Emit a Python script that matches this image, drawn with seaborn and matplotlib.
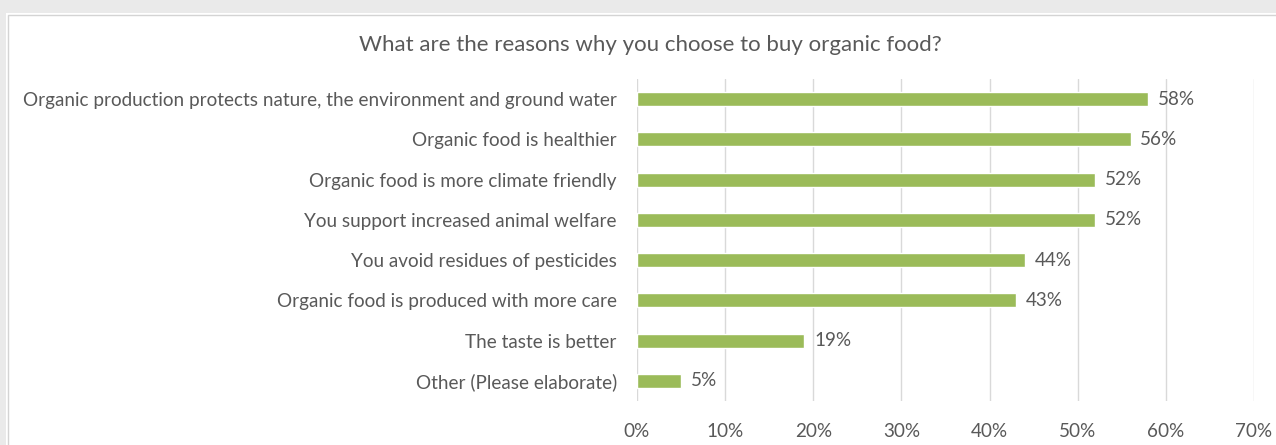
import matplotlib
matplotlib.use("Agg")
import matplotlib.pyplot as plt
import seaborn as sns
import pandas as pd
from matplotlib.patches import Rectangle
from matplotlib.ticker import FuncFormatter, MultipleLocator

title = "What are the reasons why you choose to buy organic food?"
reasons = [
    "Organic production protects nature, the environment and ground water",
    "Organic food is healthier",
    "Organic food is more climate friendly",
    "You support increased animal welfare",
    "You avoid residues of pesticides",
    "Organic food is produced with more care",
    "The taste is better",
    "Other (Please elaborate)",
]
shares = [58, 56, 52, 52, 44, 43, 19, 5]

df = pd.DataFrame({"reason": reasons, "share": [s / 100 for s in shares]})

sns.set_theme(style="white")
plt.rcParams["font.family"] = ["Lato", "DejaVu Sans"]

TEXT = "#595959"
BAR = "#9BBB59"
GRID = "#D9D9D9"
LABEL_SIZE = 13.6

fig = plt.figure(figsize=(12.76, 4.45), dpi=100, facecolor="#EAEAEA")
# white chart panel with a thin grey border
fig.patches.append(Rectangle((6 / 1276, -0.1), 1.2, 1 - 13 / 445 + 0.1,
                             transform=fig.transFigure, facecolor="white",
                             edgecolor="none", zorder=-10))
fig.patches.append(Rectangle((8 / 1276, -0.1), 1.2, 1 - 15 / 445 + 0.1,
                             transform=fig.transFigure, facecolor="white",
                             edgecolor="#D4D4D4", linewidth=1.0, zorder=-9))

ax = fig.add_axes([637 / 1276, 1 - 401 / 445, (1254 - 637) / 1276, (401 - 79) / 445])
ax.set_facecolor("none")

sns.barplot(data=df, y="reason", x="share", orient="h", color=BAR,
            width=0.35, saturation=1, ax=ax, zorder=3)

ax.set_xlim(0, 0.7)
ax.xaxis.set_major_locator(MultipleLocator(0.1))
ax.xaxis.set_major_formatter(FuncFormatter(lambda v, _: f"{v * 100:.0f}%"))
ax.grid(axis="x", color=GRID, linewidth=1.0, zorder=0)
ax.grid(axis="y", visible=False)
ax.set_axisbelow(True)
for s in ax.spines.values():
    s.set_visible(False)
ax.set_xlabel("")
ax.set_ylabel("")
ax.tick_params(axis="both", length=0, colors=TEXT, labelsize=LABEL_SIZE)
ax.tick_params(axis="x", pad=16)
ax.tick_params(axis="y", pad=14.5)

for patch, s in zip(ax.patches, shares):
    ax.text(patch.get_width() + 0.011, patch.get_y() + patch.get_height() / 2,
            f"{s}%", va="center", ha="left", color=TEXT, fontsize=LABEL_SIZE)

fig.text(650 / 1276, 1 - 45 / 445, title, ha="center", va="center",
         color=TEXT, fontsize=16)

fig.savefig("out.png", dpi=100, facecolor=fig.get_facecolor())
